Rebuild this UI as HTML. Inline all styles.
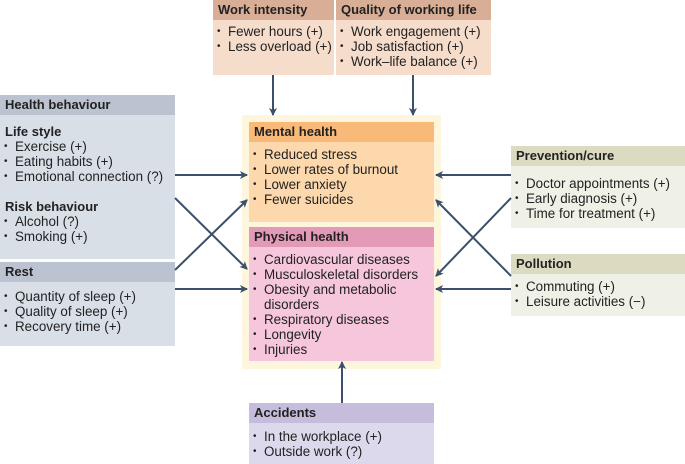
<!DOCTYPE html>
<html><head><style>
body{margin:0;width:685px;height:464px;background:#fff;position:relative;overflow:hidden;font-family:"Liberation Sans",sans-serif;color:#222}
.b{position:absolute}
.h{height:20px;line-height:20px;font-weight:bold;font-size:13px;padding-left:5px;box-sizing:border-box}
.t{font-size:13.4px;line-height:15px}
.t div{padding-left:15px;position:relative}
.t div::before{content:"•";position:absolute;left:4px;font-size:10px}
.t div.s{font-weight:bold;font-size:13px;padding-left:5px}
.t div.s::before{content:none}
</style></head><body>
<div class="b" style="left:242px;top:115px;width:199px;height:254px;background:#fdf5dc"></div>
<div class="b" style="left:213px;top:0;width:121px;height:75px;background:#f5dccb">
<div class="h" style="background:#d9ae97">Work intensity</div>
<div class="t" style="padding-top:4px"><div>Fewer hours (+)</div><div>Less overload (+)</div></div></div>
<div class="b" style="left:336px;top:0;width:155px;height:75px;background:#f5dccb">
<div class="h" style="background:#d9ae97">Quality of working life</div>
<div class="t" style="padding-top:4px"><div>Work engagement (+)</div><div>Job satisfaction (+)</div><div>Work–life balance (+)</div></div></div>
<div class="b" style="left:249px;top:122px;width:185px;height:100px;background:#fcd8ac">
<div class="h" style="background:#f9b979">Mental health</div>
<div class="t" style="padding-top:5px"><div>Reduced stress</div><div>Lower rates of burnout</div><div>Lower anxiety</div><div>Fewer suicides</div></div></div>
<div class="b" style="left:249px;top:227px;width:185px;height:134px;background:#f6c6dc">
<div class="h" style="background:#e39ab7">Physical health</div>
<div class="t" style="padding-top:5px"><div>Cardiovascular diseases</div><div>Musculoskeletal disorders</div><div>Obesity and metabolic<br>disorders</div><div>Respiratory diseases</div><div>Longevity</div><div>Injuries</div></div></div>
<div class="b" style="left:0;top:95px;width:175px;height:164px;background:#d9dfe7">
<div class="h" style="background:#bbc3d1">Health behaviour</div>
<div class="t" style="padding-top:9px"><div class="s">Life style</div><div>Exercise (+)</div><div>Eating habits (+)</div><div>Emotional connection (?)</div><div class="s" style="margin-top:15px">Risk behaviour</div><div>Alcohol (?)</div><div>Smoking (+)</div></div></div>
<div class="b" style="left:0;top:262px;width:175px;height:84px;background:#d9dfe7">
<div class="h" style="background:#bbc3d1">Rest</div>
<div class="t" style="padding-top:7px"><div>Quantity of sleep (+)</div><div>Quality of sleep (+)</div><div>Recovery time (+)</div></div></div>
<div class="b" style="left:511px;top:146px;width:174px;height:82px;background:#eff0e6">
<div class="h" style="background:#dcdbc1">Prevention/cure</div>
<div class="t" style="padding-top:10px"><div>Doctor appointments (+)</div><div>Early diagnosis (+)</div><div>Time for treatment (+)</div></div></div>
<div class="b" style="left:511px;top:254px;width:174px;height:62px;background:#eff0e6">
<div class="h" style="background:#dcdbc1">Pollution</div>
<div class="t" style="padding-top:5px"><div>Commuting (+)</div><div>Leisure activities (−)</div></div></div>
<div class="b" style="left:249px;top:403px;width:185px;height:61px;background:#dcd9ec">
<div class="h" style="background:#c6bddc">Accidents</div>
<div class="t" style="padding-top:6px"><div>In the workplace (+)</div><div>Outside work (?)</div></div></div>
<svg class="b" style="left:0;top:0" width="685" height="464">
<defs><marker id="a" markerWidth="8" markerHeight="8" refX="7" refY="4" orient="auto" markerUnits="userSpaceOnUse"><path d="M0,0 L8,4 L0,8 L2,4z" fill="#3b506b"/></marker></defs>
<g stroke="#3b506b" stroke-width="2" fill="none" marker-end="url(#a)">
<line x1="273" y1="75" x2="273" y2="115"/>
<line x1="413" y1="75" x2="413" y2="115"/>
<line x1="175" y1="175" x2="247" y2="175"/>
<line x1="175" y1="289" x2="247" y2="289"/>
<line x1="175" y1="198" x2="247" y2="269"/>
<line x1="175" y1="270" x2="247" y2="200"/>
<line x1="511" y1="175" x2="436" y2="175"/>
<line x1="511" y1="289" x2="436" y2="289"/>
<line x1="511" y1="198" x2="436" y2="276"/>
<line x1="511" y1="276" x2="436" y2="200"/>
<line x1="342" y1="403" x2="342" y2="362"/>
</g></svg>
</body></html>
